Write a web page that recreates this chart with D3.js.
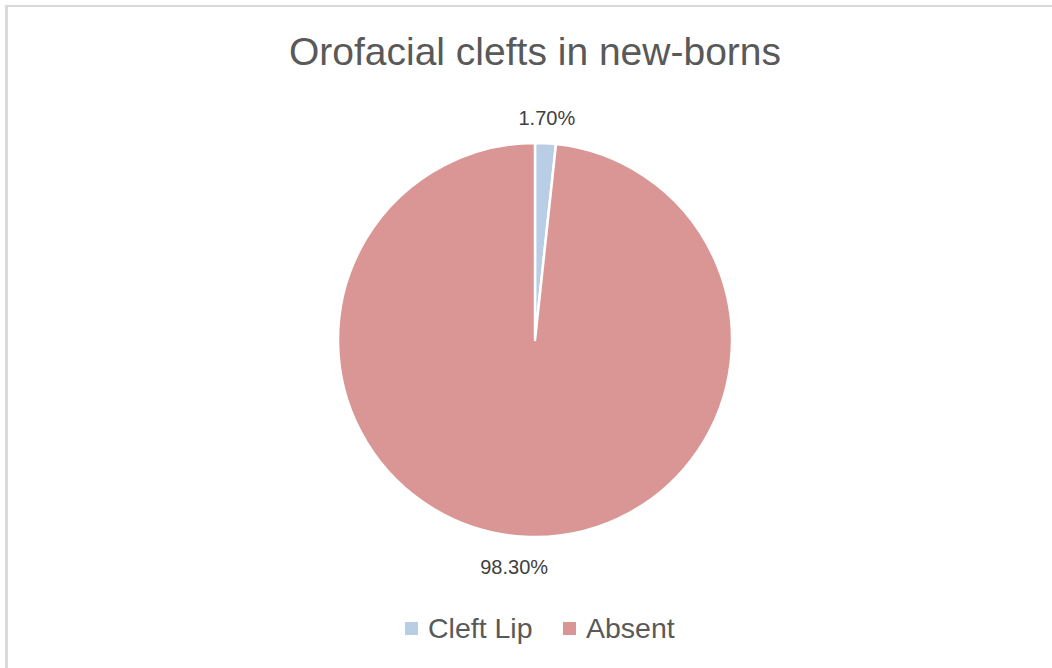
<!DOCTYPE html>
<html>
<head>
<meta charset="utf-8">
<script src="https://cdn.jsdelivr.net/npm/d3@7"></script>
<style>
  body { margin: 0; background: #fff; }
  text { font-family: "Liberation Sans", Arial, sans-serif; }
</style>
</head>
<body>
<div id="chart"></div>
<script>
const categories = ['Cleft Lip', 'Absent'];
const values = [1.7, 98.3];
const labels = ['1.70%', '98.30%'];
const colors = ['#B9CDE5', '#D99694'];

const width = 1052, height = 668;
const cx = 535, cy = 340, radius = 197;

const svg = d3.select('#chart').append('svg')
    .attr('width', width)
    .attr('height', height);

// chart frame (only top and left show in the crop)
svg.append('line').attr('x1', 6.5).attr('y1', 6).attr('x2', width).attr('y2', 6)
    .attr('stroke', '#d9d9d9').attr('stroke-width', 2);
svg.append('line').attr('x1', 6.5).attr('y1', 5).attr('x2', 6.5).attr('y2', height)
    .attr('stroke', '#d9d9d9').attr('stroke-width', 3);

// Title
svg.append('text')
    .attr('x', cx)
    .attr('y', 65)
    .attr('text-anchor', 'middle')
    .attr('fill', '#595959')
    .attr('font-size', '39px')
    .text('Orofacial clefts in new-borns');

const pie = d3.pie().sort(null).value(d => d);
const arcs = pie(values);
const arc = d3.arc().innerRadius(0).outerRadius(radius);

const g = svg.append('g').attr('transform', `translate(${cx},${cy})`);

g.selectAll('path')
    .data(arcs)
    .enter().append('path')
    .attr('d', arc)
    .attr('fill', (d, i) => colors[i])
    .attr('stroke', '#fff')
    .attr('stroke-width', 2.5)
    .attr('stroke-linejoin', 'round');

// Data labels outside the slices
const labelArc = d3.arc().innerRadius(radius + 25).outerRadius(radius + 25);
const labelShift = [[0, 0], [-9, 5]];
g.selectAll('text.lbl')
    .data(arcs)
    .enter().append('text')
    .attr('class', 'lbl')
    .attr('transform', (d, i) => {
        const [x, y] = labelArc.centroid(d);
        return `translate(${x + labelShift[i][0]},${y + labelShift[i][1]})`;
    })
    .attr('text-anchor', 'middle')
    .attr('dy', '0.35em')
    .attr('fill', '#404040')
    .attr('font-size', '20px')
    .text((d, i) => labels[i]);

// Legend
const legend = svg.append('g').attr('transform', 'translate(0,628)');
const legendX = [405, 563];
categories.forEach((c, i) => {
    const item = legend.append('g').attr('transform', `translate(${legendX[i]},0)`);
    item.append('rect')
        .attr('x', 0).attr('y', -6)
        .attr('width', 13).attr('height', 13)
        .attr('fill', colors[i]);
    item.append('text')
        .attr('x', 23).attr('y', 0)
        .attr('dy', '0.35em')
        .attr('fill', '#595959')
        .attr('font-size', '28.5px')
        .text(c);
});
</script>
</body>
</html>
